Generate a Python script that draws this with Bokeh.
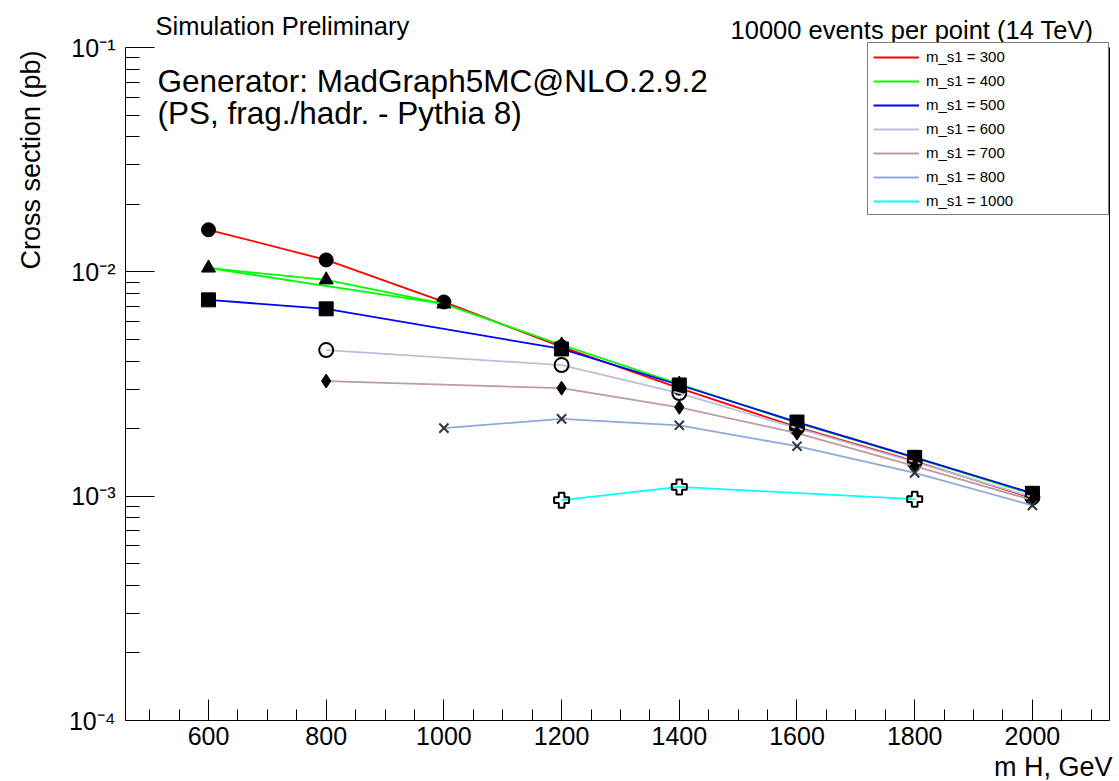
import numpy as np
from bokeh.plotting import figure
from bokeh.models import (Range1d, FixedTicker, CustomJSTickFormatter, Label,
                          Legend, LegendItem, LogAxis)
from bokeh.embed import file_html
from bokeh.resources import INLINE

# ---------------- data ----------------
x_300 = [600, 800, 1000, 1200, 1400, 1600, 1800, 2000]
y_300 = [0.0154, 0.0113, 0.00734, 0.00463, 0.00303, 0.00203, 0.00143, 0.00098]

x_400 = [600, 800, 1000, 1200, 1400, 1600, 1800, 2000]
y_400 = [0.0104, 0.00921, 0.00719, 0.00472, 0.00316, 0.00212, 0.00148, 0.00102]

x_500 = [600, 800, 1200, 1400, 1600, 1800, 2000]
y_500 = [0.0075, 0.00684, 0.00453, 0.00313, 0.00214, 0.00149, 0.00103]

x_600 = [800, 1200, 1400, 1600, 1800, 2000]
y_600 = [0.00448, 0.00384, 0.00288, 0.00201, 0.00142, 0.00099]

x_700 = [800, 1200, 1400, 1600, 1800, 2000]
y_700 = [0.00326, 0.00303, 0.00249, 0.00191, 0.00136, 0.00096]

x_800 = [1000, 1200, 1400, 1600, 1800, 2000]
y_800 = [0.00201, 0.00221, 0.00207, 0.00167, 0.00127, 0.00091]

x_1000 = [1200, 1400, 1800]
y_1000 = [0.00096, 0.00110, 0.00097]

labels = ["m_s1 = 300", "m_s1 = 400", "m_s1 = 500", "m_s1 = 600",
          "m_s1 = 700", "m_s1 = 800", "m_s1 = 1000"]

x_major = [600, 800, 1000, 1200, 1400, 1600, 1800, 2000]
x_minor = list(range(500, 2101, 50))
y_major = [1e-4, 1e-3, 1e-2, 1e-1]
y_minor = [k * 10.0 ** d for d in (-4, -3, -2) for k in range(2, 10)]

X_LO, X_HI = 459, 2131          # axis extent (data)
Y_LO, Y_HI = 1e-4, 1e-1

FONT = "Liberation Sans"
W, H = 1119, 781
# frame of the axes inside the canvas (pixels)
FL, FR, FT, FB = 125, 1109, 47, 720

# the plotting frame covers the whole canvas; axes sit at fixed locations
sx = (FR - FL) / (X_HI - X_LO)
x_start = X_LO - FL / sx
x_end = x_start + W / sx
dec = (FB - FT) / 3.0
y_start = 10 ** (np.log10(Y_LO) - (H - FB) / dec)
y_end = 10 ** (np.log10(Y_HI) + FT / dec)

p = figure(width=W, height=H, title=None,
           x_range=Range1d(x_start, x_end), y_range=Range1d(y_start, y_end),
           y_axis_type="log", output_backend="svg", toolbar_location=None,
           min_border=0)
p.grid.visible = False
p.outline_line_color = None
p.background_fill_color = "white"
p.border_fill_color = "white"

xa = p.xaxis[0]
xa.fixed_location = Y_LO
xa.bounds = (X_LO, X_HI)
xa.ticker = FixedTicker(ticks=x_major, minor_ticks=x_minor)
xa.major_tick_in = 21
xa.major_tick_out = 0
xa.minor_tick_in = 11
xa.minor_tick_out = 0
xa.axis_line_color = "black"
xa.major_tick_line_color = "black"
xa.minor_tick_line_color = "black"
xa.major_label_text_font = FONT
xa.major_label_text_font_size = "25px"
xa.major_label_text_color = "black"
xa.major_label_standoff = 6

ya = p.yaxis[0]
ya.fixed_location = X_LO
ya.bounds = (Y_LO, Y_HI)
ya.ticker = FixedTicker(ticks=y_major, minor_ticks=y_minor)
ya.major_tick_in = 29
ya.major_tick_out = 0
ya.minor_tick_in = 14
ya.minor_tick_out = 0
ya.axis_line_color = "black"
ya.major_tick_line_color = "black"
ya.minor_tick_line_color = "black"
ya.major_label_text_font = FONT
ya.major_label_text_font_size = "25px"
ya.major_label_text_color = "black"
ya.major_label_standoff = 10
ya.formatter = CustomJSTickFormatter(code="""
const e = Math.round(Math.log10(tick));
const sup = {"-": "\\u207B", "0": "\\u2070", "1": "\\u00B9", "2": "\\u00B2",
             "3": "\\u00B3", "4": "\\u2074", "5": "\\u2075", "6": "\\u2076",
             "7": "\\u2077", "8": "\\u2078", "9": "\\u2079"};
return "10" + String(e).split("").map(c => sup[c]).join("");
""")

# right edge of the frame
ra = LogAxis(fixed_location=X_HI, bounds=(Y_LO, Y_HI),
             ticker=FixedTicker(ticks=[], minor_ticks=[]),
             major_tick_in=0, major_tick_out=0, minor_tick_in=0, minor_tick_out=0,
             major_label_text_font_size="0px", axis_line_color="black")
p.add_layout(ra, "right")

series = [
    (x_300, y_300, "#ff0000", "circle", 14, "black", 1.0),
    (x_400, y_400, "#00ff00", "triangle", 14, "black", 1.0),
    (x_500, y_500, "#0000ff", "square", 14, "black", 1.0),
    (x_600, y_600, "#bdbddb", "circle", 14, "black", 0.0),
    (x_700, y_700, "#bc9c9c", "diamond", 14, "black", 1.0),
    (x_800, y_800, "#8fa8dd", "x", 13, "#333333", 0.0),
    (x_1000, y_1000, "#00ffff", "plus", 15, "black", 0.0),
]

line_renderers = []
for i, (xs, ys, col, mk, sz, mcol, falpha) in enumerate(series):
    r = p.line(xs, ys, line_color=col, line_width=1.8)
    line_renderers.append(r)
    if i == 1:
        # second drawn segment of this series (chord between its 1st and 3rd points)
        p.line([xs[0], xs[2]], [ys[0], ys[2]], line_color=col, line_width=1.8)
    lw = 2.0 if falpha == 0.0 else 1.0
    p.scatter(xs, ys, marker=mk, size=sz, line_color=mcol, line_width=lw,
              fill_color=mcol, fill_alpha=falpha)

legend = Legend(items=[LegendItem(label=l, renderers=[r]) for l, r in zip(labels, line_renderers)],
                location=(867, H - 215), border_line_color="black", border_line_width=1,
                padding=5, spacing=7, glyph_width=46, glyph_height=16,
                label_height=16, label_width=177, label_standoff=7,
                label_text_font=FONT, label_text_font_size="15px",
                label_text_color="black", margin=0,
                background_fill_color="white", background_fill_alpha=1.0)
p.add_layout(legend)

def add_label(text, x, y, size, align="left", angle=0.0):
    # x, y given as canvas pixels from the top-left corner
    p.add_layout(Label(text=text, x=x, y=H - y, x_units="screen", y_units="screen",
                       text_font=FONT, text_font_size=size, text_color="black",
                       text_align=align, text_baseline="middle", angle=angle))

add_label("Simulation Preliminary", 155, 25, "25.5px")
add_label("10000 events  per point (14 TeV)", 1100, 29, "25.5px", align="right")
add_label("Generator: MadGraph5MC@NLO.2.9.2", 157, 80, "31.5px")
add_label("(PS, frag./hadr. - Pythia 8)", 157, 112, "31.5px")
add_label("Cross section (pb)", 30, 50, "27px", align="right", angle=np.pi / 2)
add_label("m H, GeV", 1112, 766, "27px", align="right")

open("out.html", "w").write(file_html(p, INLINE))
